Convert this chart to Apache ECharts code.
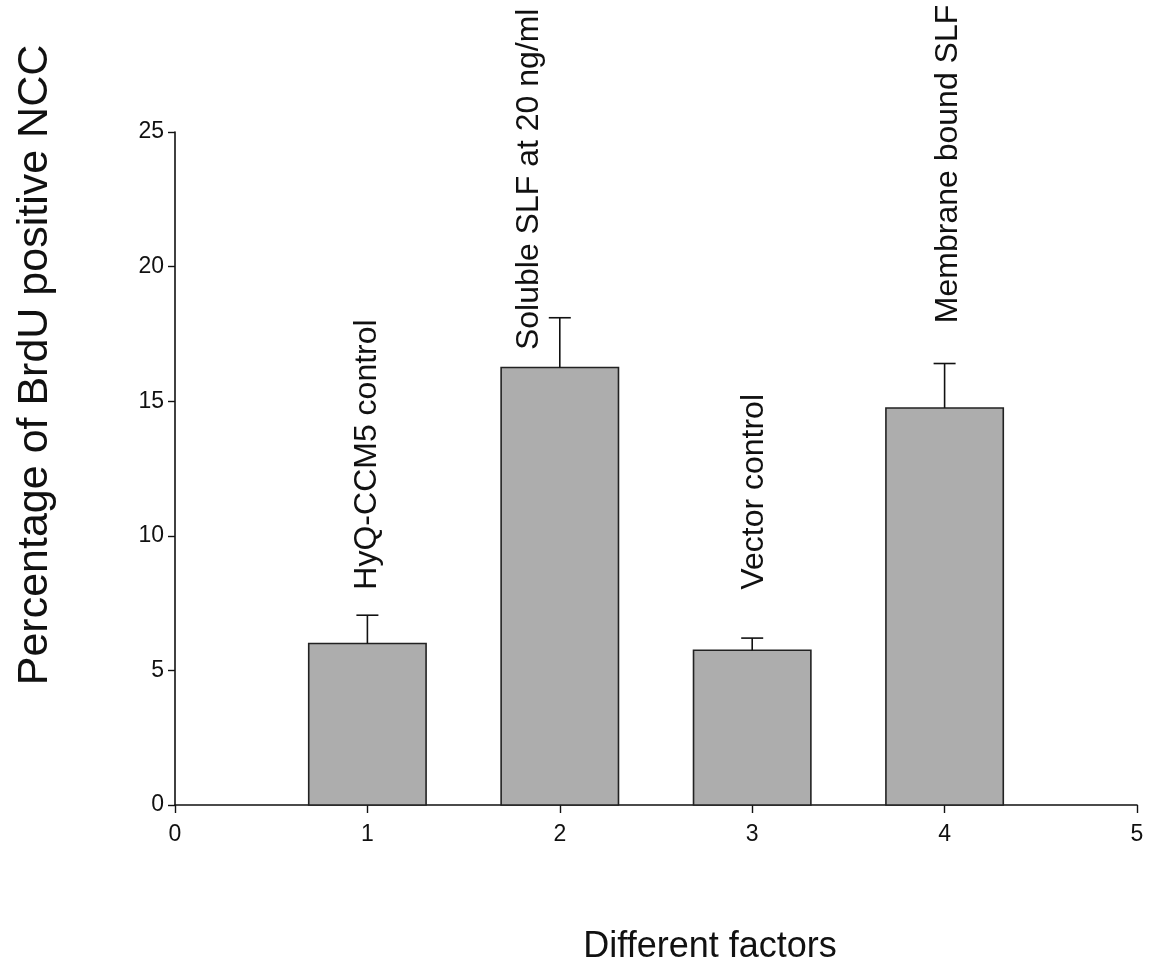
<!DOCTYPE html>
<html>
<head>
<meta charset="utf-8">
<script src="https://cdn.jsdelivr.net/npm/echarts@6/dist/echarts.min.js"></script>
<style>
  html, body { margin: 0; padding: 0; background: #fff; }
  #chart { width: 1160px; height: 976px; }
</style>
</head>
<body>
<div id="chart"></div>
<script>
// factors on the x axis (1..4) and their means / upper errors
var factors = [1, 2, 3, 4];
var means = [6.0, 16.25, 5.75, 14.75];
var errors = [1.05, 1.85, 0.45, 1.65];
var xTicks = [0, 1, 2, 3, 4, 5];
var yTicks = [0, 5, 10, 15, 20, 25];

// text written above the bars, with the data point where each one starts
var noteText = ['HyQ-CCM5 control', 'Soluble SLF at 20 ng/ml', 'Vector control', 'Membrane bound SLF'];
var noteX = [1.0, 1.84, 3.01, 4.02];
var noteY = [8.0, 16.9, 8.0, 17.9];

var BAR_W = 0.61;   // in x units
var FONT = '"Liberation Sans", Arial, sans-serif';

var chart = echarts.init(document.getElementById('chart'));

var barData = [], errData = [], noteData = [];
for (var i = 0; i < factors.length; i++) {
    barData.push([factors[i], means[i]]);
    errData.push([factors[i], means[i], means[i] + errors[i]]);
    noteData.push([noteX[i], noteY[i], noteText[i]]);
}

function renderBar(params, api) {
    var top = api.coord([api.value(0), api.value(1)]);
    var base = api.coord([api.value(0), 0]);
    var w = api.size([BAR_W, 0])[0];
    return {
        type: 'rect',
        shape: { x: top[0] - w / 2, y: top[1], width: w, height: base[1] - top[1] },
        style: { fill: '#adadad', stroke: '#222', lineWidth: 1.6 }
    };
}

function renderErr(params, api) {
    var lo = api.coord([api.value(0), api.value(1)]);
    var hi = api.coord([api.value(0), api.value(2)]);
    var style = { stroke: '#111', lineWidth: 1.6 };
    return {
        type: 'group',
        children: [
            { type: 'line', shape: { x1: lo[0], y1: lo[1], x2: hi[0], y2: hi[1] }, style: style },
            { type: 'line', shape: { x1: hi[0] - 11, y1: hi[1], x2: hi[0] + 11, y2: hi[1] }, style: style }
        ]
    };
}

function renderNote(params, api) {
    var p = api.coord([api.value(0), api.value(1)]);
    return {
        type: 'text',
        x: p[0],
        y: p[1],
        rotation: Math.PI / 2,
        style: {
            text: noteText[params.dataIndex],
            font: '32px ' + FONT,
            fill: '#111',
            align: 'left',
            verticalAlign: 'middle'
        }
    };
}

var options = {
    backgroundColor: '#fff',
    animation: false,
    grid: { left: 175, right: 23, top: 132, bottom: 171 },
    xAxis: {
        type: 'value',
        min: 0, max: 5, interval: 1,
        splitLine: { show: false },
        axisLine: { lineStyle: { color: '#111', width: 1.6 } },
        axisTick: { length: 8, lineStyle: { color: '#111', width: 1.4 } },
        axisLabel: {
            margin: 18, color: '#111', fontSize: 23, fontFamily: FONT,
            formatter: function (v) { return xTicks.indexOf(v) >= 0 ? String(v) : ''; }
        }
    },
    yAxis: {
        type: 'value',
        min: 0, max: 25, interval: 5,
        splitLine: { show: false },
        axisLine: { show: true, lineStyle: { color: '#111', width: 1.6 } },
        axisTick: { show: true, length: 7, lineStyle: { color: '#111', width: 1.4 } },
        axisLabel: {
            margin: 11, color: '#111', fontSize: 23, fontFamily: FONT,
            formatter: function (v) { return yTicks.indexOf(v) >= 0 ? String(v) : ''; }
        }
    },
    graphic: [
        {
            type: 'text', x: 35, y: 365, rotation: Math.PI / 2,
            style: {
                text: 'Percentage of BrdU positive NCC',
                font: '43px ' + FONT, fill: '#111',
                align: 'center', verticalAlign: 'middle'
            }
        },
        {
            type: 'text', x: 710, y: 947,
            style: {
                text: 'Different factors',
                font: '36px ' + FONT, fill: '#111',
                align: 'center', verticalAlign: 'middle'
            }
        }
    ],
    series: [
        { type: 'custom', renderItem: renderBar, data: barData, encode: { x: 0, y: 1 }, z: 2 },
        { type: 'custom', renderItem: renderErr, data: errData, encode: { x: 0, y: [1, 2] }, z: 3 },
        { type: 'custom', renderItem: renderNote, data: noteData, encode: { x: 0, y: 1 }, z: 4, clip: false }
    ]
};

chart.setOption(options);
</script>
</body>
</html>
